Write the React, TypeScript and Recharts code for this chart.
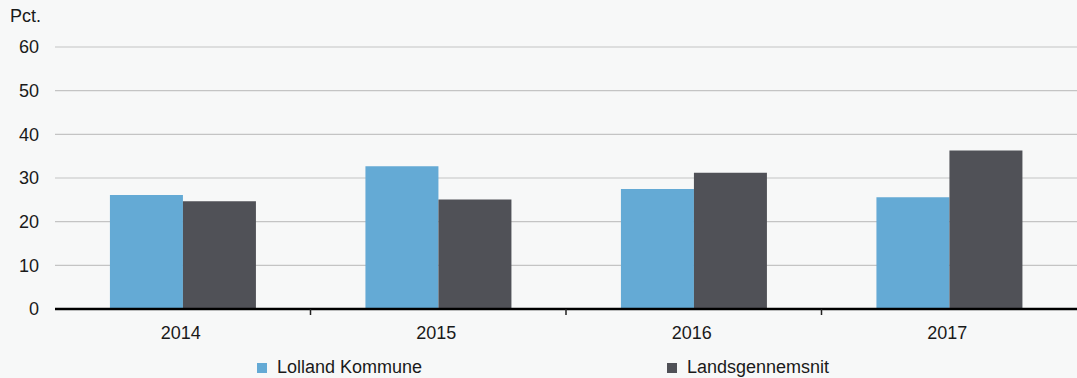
import { BarChart, Bar, XAxis, YAxis, CartesianGrid, Legend } from 'recharts';

const years = ['2014', '2015', '2016', '2017'];
const lolland = [26.1, 32.7, 27.5, 25.6];
const landsgennemsnit = [24.7, 25.1, 31.2, 36.3];
const yTicks = [0, 10, 20, 30, 40, 50, 60];

const data = years.map((year, i) => ({
  year,
  lolland: lolland[i],
  lands: landsgennemsnit[i],
}));

const FONT = '"Liberation Sans", Arial, Helvetica, sans-serif';

const XTick = (props: any) => {
  const { x, y, payload } = props;
  const left = x - (payload.offset ?? 0);
  return (
    <g>
      {payload.index > 0 && (
        <line x1={left} x2={left} y1={y - 8} y2={y - 2} stroke="#222" strokeWidth={1.5} />
      )}
      <text x={x - 2} y={y + 22} textAnchor="middle" fontSize={18} fill="#1a1a1a" fontFamily={FONT}>
        {payload.value}
      </text>
    </g>
  );
};

const LegendContent = () => (
  <div style={{ display: 'flex', paddingLeft: 257, paddingTop: 12, fontFamily: FONT, fontSize: 18, color: '#1a1a1a' }}>
    {[
      { name: 'Lolland Kommune', color: '#64aad5' },
      { name: 'Landsgennemsnit', color: '#505157' },
    ].map((item) => (
      <div key={item.name} style={{ width: 416, display: 'flex', alignItems: 'center' }}>
        <span style={{ width: 10, height: 10, background: item.color, marginRight: 10, display: 'inline-block' }} />
        {item.name}
      </div>
    ))}
  </div>
);

export default function App() {
  return (
    <div style={{ position: 'fixed', left: 0, top: 0, width: 1077, height: 378, background: '#f7f8f8' }}>
      <div style={{ position: 'absolute', left: 10, top: 6, fontFamily: FONT, fontSize: 18, color: '#1a1a1a' }}>
        Pct.
      </div>
      <BarChart
        width={1077}
        height={378}
        data={data}
        margin={{ top: 47, right: 0, left: 0, bottom: 0 }}
        barCategoryGap="21.5%"
        barGap={0}
      >
        <CartesianGrid vertical={false} stroke="#c4c4c4" strokeWidth={1.2} />
        <XAxis
          dataKey="year"
          axisLine={{ stroke: '#000', strokeWidth: 2.5 }}
          tickLine={false}
          tick={<XTick />}
          height={36}
          interval={0}
        />
        <YAxis
          domain={[0, 60]}
          ticks={yTicks}
          width={55}
          axisLine={false}
          tickLine={false}
          tickSize={0}
          tickMargin={16}
          tick={{ fontSize: 18, fill: '#1a1a1a', fontFamily: FONT }}
        />
        <Legend verticalAlign="bottom" height={33} content={<LegendContent />} />
        <Bar dataKey="lolland" name="Lolland Kommune" fill="#64aad5" isAnimationActive={false} />
        <Bar dataKey="lands" name="Landsgennemsnit" fill="#505157" isAnimationActive={false} />
      </BarChart>
    </div>
  );
}
